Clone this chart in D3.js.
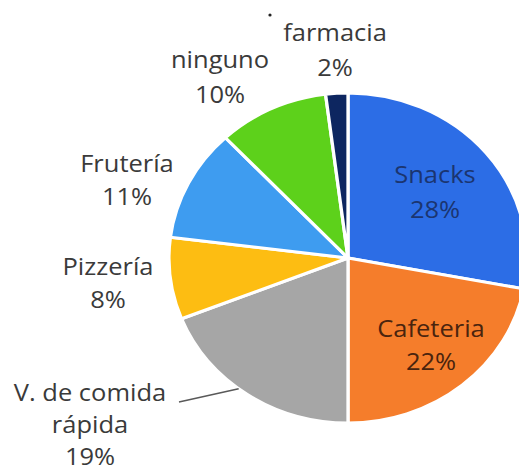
<!DOCTYPE html>
<html>
<head>
<meta charset="utf-8">
<script src="https://cdn.jsdelivr.net/npm/d3@7"></script>
<style>
  body { margin: 0; background: #fff; }
  text { font-family: "Open Sans", Lato, sans-serif; }
</style>
</head>
<body>
<div id="chart"></div>
<script>
// slices, clockwise from 12 o'clock
const categories = ['Snacks', 'Cafeteria', 'V. de comida rápida', 'Pizzería', 'Frutería', 'ninguno', 'farmacia'];
const values = [28, 22, 19, 8, 11, 10, 2];
const colors = ['#2c6de6', '#f57d2b', '#a6a6a6', '#fdbd12', '#3e9cf0', '#5dd11b', '#0d2660'];

// label lines shown in the picture
const labelLines = [
  ['Snacks', '28%'],
  ['Cafeteria', '22%'],
  ['V. de comida', 'rápida', '19%'],
  ['Pizzería', '8%'],
  ['Frutería', '11%'],
  ['ninguno', '10%'],
  ['farmacia', '2%']
];

const width = 519;
const height = 472;
const cx = 348, cy = 258;
const radius = 165;
const stretchX = 1.085; // source picture is a bit wider than tall

// where each label's first line sits, relative to pie centre
const labelPos = [
  [87, -75], [83, 79], [-258, 143], [-240, 17], [-221, -86], [-128, -190], [-13, -217]
];
const labelGap = [35, 33, 32, 33, 33, 35, 35];
const labelFill = ['#1b3570', '#4a240e', '#3a3a3a', '#3a3a3a', '#3a3a3a', '#3a3a3a', '#3a3a3a'];

const svg = d3.select('#chart')
  .append('svg')
  .attr('width', width)
  .attr('height', height);

const pie = d3.pie().sort(null).value(d => d)(values);
const arc = d3.arc().innerRadius(0).outerRadius(radius);

const g = svg.append('g')
  .attr('transform', 'translate(' + cx + ',' + cy + ') scale(' + stretchX + ',1)');

g.selectAll('path')
  .data(pie)
  .join('path')
  .attr('d', arc)
  .attr('fill', (d, i) => colors[i])
  .attr('stroke', '#fff')
  .attr('stroke-width', 3)
  .attr('stroke-linejoin', 'round');

// leader line for the grey slice
const vAngle = (pie[2].startAngle + pie[2].endAngle) / 2 + 0.06;
const edge = [Math.sin(vAngle) * radius * stretchX, -Math.cos(vAngle) * radius];
svg.append('path')
  .attr('d', d3.line()([[cx + labelPos[2][0] + 89, cy + labelPos[2][1] + 1], [cx + edge[0], cy + edge[1]]]))
  .attr('stroke', '#595959')
  .attr('stroke-width', 1.5)
  .attr('fill', 'none');

const labels = svg.append('g')
  .attr('font-size', 23.5)
  .attr('text-anchor', 'middle');

labels.selectAll('text')
  .data(labelLines)
  .join('text')
  .attr('fill', (d, i) => labelFill[i])
  .attr('transform', (d, i) => 'translate(' + (cx + labelPos[i][0]) + ',' + (cy + labelPos[i][1]) + ') scale(' + stretchX + ',1)')
  .each(function (d, i) {
    d3.select(this).selectAll('tspan')
      .data(d)
      .join('tspan')
      .attr('x', 0)
      .attr('y', (t, j) => j * labelGap[i])
      .text(t => t);
  });

// stray dot above the farmacia label in the source
svg.append('circle')
  .attr('cx', 270)
  .attr('cy', 15)
  .attr('r', 1.6)
  .attr('fill', '#222');
</script>
</body>
</html>
